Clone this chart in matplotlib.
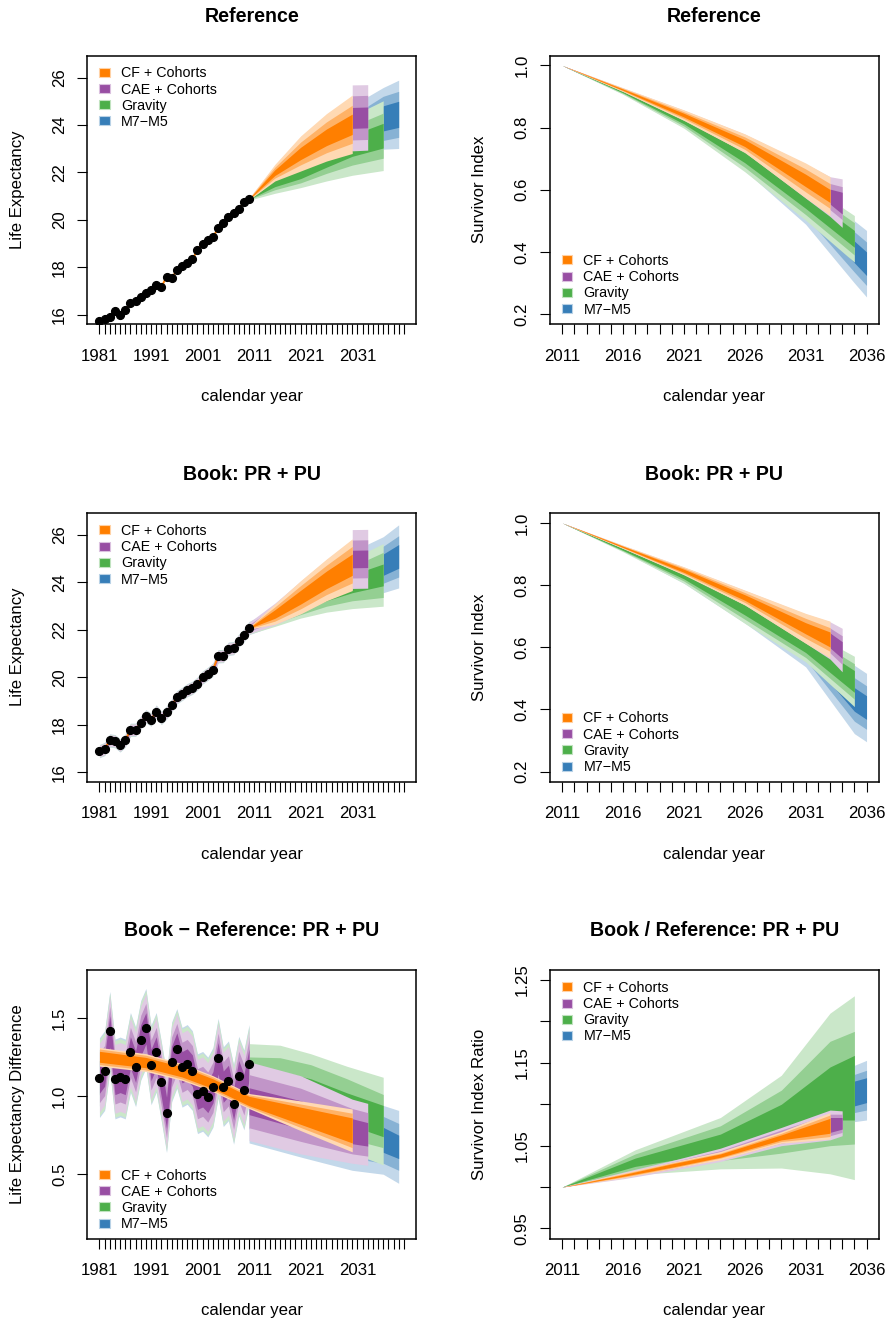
import numpy as np
import matplotlib
matplotlib.use("Agg")
import matplotlib.pyplot as plt
from matplotlib.colors import to_rgb
from matplotlib.patches import Rectangle

plt.rcParams["font.family"] = ["Liberation Sans", "DejaVu Sans"]

# ------------------------------------------------------------------ data
hist_years = list(range(1981, 2011))

ref_le_obs = [15.75, 15.82, 15.92, 16.15, 16.01, 16.20, 16.49, 16.58, 16.73, 16.93,
              17.04, 17.25, 17.18, 17.59, 17.56, 17.87, 18.07, 18.18, 18.34, 18.72,
              19.00, 19.14, 19.27, 19.65, 19.86, 20.11, 20.28, 20.44, 20.74, 20.88]
book_le_obs = [16.89, 16.98, 17.34, 17.31, 17.13, 17.34, 17.79, 17.79, 18.09, 18.36,
               18.22, 18.56, 18.29, 18.52, 18.82, 19.16, 19.30, 19.46, 19.56, 19.74,
               20.00, 20.15, 20.33, 20.89, 20.90, 21.21, 21.23, 21.55, 21.77, 22.08]
diff_le_obs = [1.118, 1.163, 1.414, 1.109, 1.122, 1.109, 1.279, 1.187, 1.356, 1.433,
               1.199, 1.279, 1.092, 0.893, 1.219, 1.304, 1.184, 1.202, 1.163, 1.015,
               1.030, 0.994, 1.056, 1.242, 1.060, 1.097, 0.947, 1.127, 1.039, 1.202]

# fan rows: year, centre, half-width of the inner / middle / outer band
ref_le_cf = [(2010, 20.88, 0.01, 0.02, 0.03), (2015, 21.99, 0.12, 0.23, 0.35),
             (2020, 22.80, 0.26, 0.48, 0.74), (2025, 23.48, 0.35, 0.65, 1.00),
             (2030, 24.03, 0.43, 0.80, 1.23)]
ref_le_cae = [(2010, 20.88, 0.01, 0.02, 0.03), (2015, 21.99, 0.10, 0.20, 0.30),
              (2020, 22.80, 0.22, 0.42, 0.65), (2025, 23.48, 0.30, 0.58, 0.90),
              (2030, 24.03, 0.38, 0.70, 1.10), (2030, 24.30, 0.44, 0.93, 1.39),
              (2033, 24.32, 0.44, 0.93, 1.38)]
ref_le_grav = [(2010, 20.88, 0.01, 0.02, 0.05), (2015, 21.55, 0.15, 0.28, 0.43),
               (2020, 21.96, 0.22, 0.40, 0.60), (2025, 22.54, 0.32, 0.58, 0.90),
               (2030, 23.13, 0.45, 0.82, 1.25), (2036, 23.55, 0.52, 0.95, 1.47)]
ref_le_m7 = [(2010, 20.88, 0.01, 0.02, 0.03), (2020, 22.30, 0.22, 0.40, 0.60),
             (2025, 22.90, 0.32, 0.58, 0.90), (2030, 23.60, 0.40, 0.75, 1.15),
             (2033, 23.95, 0.47, 0.85, 1.25), (2036, 24.28, 0.53, 0.93, 1.30),
             (2039, 24.45, 0.55, 0.97, 1.44)]

ref_si_cf = [(2011, 1.000, 0.000, 0.000, 0.000), (2016, 0.922, 0.002, 0.004, 0.006),
             (2021, 0.840, 0.006, 0.011, 0.017), (2026, 0.750, 0.011, 0.020, 0.030),
             (2031, 0.630, 0.020, 0.037, 0.056), (2033, 0.580, 0.021, 0.040, 0.062)]
ref_si_cae = [(2011, 1.000, 0.000, 0.000, 0.000), (2016, 0.922, 0.002, 0.004, 0.006),
              (2021, 0.840, 0.005, 0.010, 0.016), (2026, 0.750, 0.010, 0.019, 0.029),
              (2031, 0.628, 0.019, 0.036, 0.055), (2033, 0.578, 0.024, 0.042, 0.064),
              (2034, 0.557, 0.035, 0.053, 0.078)]
ref_si_grav = [(2011, 1.000, 0.000, 0.000, 0.000), (2016, 0.915, 0.003, 0.005, 0.008),
               (2021, 0.820, 0.008, 0.015, 0.022), (2026, 0.703, 0.016, 0.031, 0.045),
               (2031, 0.562, 0.022, 0.042, 0.060), (2035, 0.442, 0.027, 0.052, 0.075)]
ref_si_m7 = [(2011, 1.000, 0.000, 0.000, 0.000), (2016, 0.915, 0.003, 0.005, 0.007),
             (2021, 0.820, 0.008, 0.014, 0.020), (2026, 0.705, 0.016, 0.028, 0.043),
             (2031, 0.557, 0.024, 0.043, 0.068), (2035, 0.400, 0.035, 0.065, 0.100),
             (2036, 0.362, 0.038, 0.070, 0.107)]

book_le_cf = [(2010, 22.08, 0.01, 0.03, 0.05), (2015, 22.67, 0.18, 0.30, 0.43),
              (2020, 23.38, 0.29, 0.49, 0.70), (2025, 24.11, 0.37, 0.62, 0.88),
              (2030, 24.75, 0.45, 0.77, 1.09)]
book_le_cae = [(2010, 22.08, 0.06, 0.14, 0.24), (2015, 22.67, 0.17, 0.30, 0.46),
               (2020, 23.38, 0.26, 0.46, 0.68), (2025, 24.11, 0.33, 0.58, 0.85),
               (2030, 24.75, 0.40, 0.70, 1.05), (2030, 24.99, 0.37, 0.80, 1.24),
               (2033, 25.00, 0.37, 0.80, 1.24)]
book_le_grav = [(2010, 22.08, 0.07, 0.15, 0.26), (2015, 22.45, 0.10, 0.18, 0.30),
                (2020, 22.95, 0.16, 0.30, 0.45), (2025, 23.50, 0.27, 0.50, 0.75),
                (2030, 23.95, 0.38, 0.72, 1.05), (2036, 24.32, 0.46, 0.95, 1.32)]
book_le_m7 = [(2010, 22.08, 0.08, 0.16, 0.28), (2015, 22.55, 0.12, 0.22, 0.36),
              (2020, 23.10, 0.19, 0.35, 0.55), (2025, 23.70, 0.28, 0.50, 0.80),
              (2030, 24.20, 0.35, 0.62, 1.00), (2033, 24.50, 0.40, 0.70, 1.12),
              (2036, 24.75, 0.45, 0.78, 1.18), (2039, 25.10, 0.50, 0.87, 1.33)]
book_le_cae_hist_hw = [0.06, 0.14, 0.24]
book_le_grav_hist_hw = [0.07, 0.15, 0.26]
book_le_m7_hist_hw = [0.08, 0.16, 0.28]

book_si_cf = [(2011, 1.000, 0.000, 0.000, 0.000), (2016, 0.923, 0.002, 0.003, 0.005),
              (2021, 0.846, 0.005, 0.009, 0.013), (2026, 0.760, 0.009, 0.016, 0.024),
              (2031, 0.661, 0.018, 0.032, 0.048), (2033, 0.625, 0.024, 0.038, 0.059)]
book_si_cae = [(2011, 1.000, 0.000, 0.000, 0.000), (2016, 0.923, 0.001, 0.003, 0.005),
               (2021, 0.846, 0.004, 0.008, 0.012), (2026, 0.760, 0.008, 0.015, 0.023),
               (2031, 0.660, 0.017, 0.031, 0.047), (2033, 0.622, 0.024, 0.040, 0.060),
               (2034, 0.591, 0.027, 0.046, 0.070)]
book_si_grav = [(2011, 1.000, 0.000, 0.000, 0.000), (2016, 0.915, 0.003, 0.005, 0.008),
                (2021, 0.828, 0.008, 0.015, 0.022), (2026, 0.720, 0.016, 0.030, 0.043),
                (2031, 0.605, 0.022, 0.038, 0.052), (2035, 0.490, 0.035, 0.057, 0.081)]
book_si_m7 = [(2011, 1.000, 0.000, 0.000, 0.000), (2016, 0.916, 0.003, 0.005, 0.007),
              (2021, 0.826, 0.008, 0.013, 0.020), (2026, 0.720, 0.015, 0.027, 0.042),
              (2031, 0.600, 0.022, 0.040, 0.063), (2035, 0.432, 0.038, 0.070, 0.110),
              (2036, 0.406, 0.038, 0.070, 0.110)]

diff_le_cf = [(1981, 1.251, 0.035, 0.050, 0.060), (1990, 1.214, 0.033, 0.047, 0.057),
              (1997, 1.154, 0.032, 0.045, 0.054), (2003, 1.079, 0.031, 0.043, 0.051),
              (2010, 0.968, 0.030, 0.040, 0.048), (2020, 0.874, 0.055, 0.075, 0.095),
              (2030, 0.780, 0.080, 0.110, 0.137)]
diff_le_cae = [(2010, 0.967, 0.086, 0.170, 0.252), (2020, 0.880, 0.090, 0.170, 0.250),
               (2030, 0.775, 0.080, 0.145, 0.205), (2033, 0.755, 0.075, 0.139, 0.198)]
diff_le_grav = [(2010, 1.070, 0.100, 0.180, 0.265), (2016, 1.055, 0.105, 0.190, 0.270),
                (2022, 1.000, 0.110, 0.200, 0.270), (2029, 0.920, 0.100, 0.190, 0.270),
                (2036, 0.840, 0.100, 0.170, 0.280)]
diff_le_m7 = [(2010, 0.960, 0.090, 0.170, 0.260), (2020, 0.870, 0.090, 0.170, 0.260),
              (2030, 0.760, 0.085, 0.155, 0.235), (2036, 0.720, 0.080, 0.150, 0.220),
              (2039, 0.675, 0.075, 0.150, 0.233)]
diff_le_cae_hist_hw = [0.10, 0.16, 0.22]
diff_le_grav_hist_hw = [0.11, 0.18, 0.245]
diff_le_m7_hist_hw = [0.11, 0.18, 0.255]

ratio_si_cf = [(2011, 1.000, 0.000, 0.000, 0.000), (2016, 1.014, 0.001, 0.002, 0.003),
               (2020, 1.026, 0.002, 0.003, 0.004), (2024, 1.038, 0.002, 0.003, 0.005),
               (2029, 1.060, 0.003, 0.005, 0.007), (2033, 1.074, 0.009, 0.013, 0.016)]
ratio_si_cae = [(2011, 1.000, 0.000, 0.000, 0.000), (2016, 1.014, 0.001, 0.002, 0.004),
                (2020, 1.026, 0.002, 0.004, 0.006), (2024, 1.039, 0.003, 0.005, 0.008),
                (2029, 1.061, 0.005, 0.008, 0.011), (2033, 1.075, 0.009, 0.013, 0.018),
                (2034, 1.077, 0.007, 0.011, 0.015)]
ratio_si_grav = [(2011, 1.000, 0.000, 0.000, 0.000), (2017, 1.030, 0.005, 0.010, 0.015),
                 (2024, 1.053, 0.011, 0.021, 0.031), (2029, 1.079, 0.021, 0.038, 0.056),
                 (2033, 1.113, 0.032, 0.063, 0.097), (2035, 1.120, 0.039, 0.068, 0.111)]
ratio_si_m7 = [(2011, 1.000, 0.000, 0.000, 0.000), (2017, 1.028, 0.004, 0.007, 0.011),
               (2024, 1.050, 0.007, 0.012, 0.019), (2029, 1.076, 0.010, 0.018, 0.028),
               (2033, 1.100, 0.013, 0.021, 0.032), (2035, 1.113, 0.015, 0.023, 0.034),
               (2036, 1.117, 0.015, 0.024, 0.036)]

labels = ["CF + Cohorts", "CAE + Cohorts", "Gravity", "M7\u2212M5"]
colours = ["#FF7F00", "#984EA3", "#4DAF4A", "#377EB8"]

# ------------------------------------------------------------------ layout (pixels)
W, H = 887, 1319
AW, AH = 328.7, 268.5
COL_X = [87.3, 550.0]
ROW_Y = [55.5, 513.0, 970.0]


def tint(c, a):
    r, g, b = to_rgb(c)
    return (1 - a + a * r, 1 - a + a * g, 1 - a + a * b)


def fan(ax, rows, colour):
    rows = np.asarray(rows, dtype=float)
    yr, mid = rows[:, 0], rows[:, 1]
    for k, a in ((4, 0.3), (3, 0.6), (2, 1.0)):
        ax.fill_between(yr, mid - rows[:, k], mid + rows[:, k],
                        color=tint(colour, a), linewidth=0)


def hist_rows(obs, hw):
    return [(y, v, hw[0], hw[1], hw[2]) for y, v in zip(hist_years, obs)]


def legend(ax, where):
    n = len(labels)
    for i, (lab, c) in enumerate(zip(labels, colours)):
        yc = AH - 16.8 - 16.2 * i if where == "upper" else 15.5 + 16.2 * (n - 1 - i)
        ax.add_patch(Rectangle((12 / AW, (yc - 4.5) / AH), 10.5 / AW, 9 / AH,
                               transform=ax.transAxes, facecolor=c,
                               edgecolor=tint(c, 0.35), linewidth=0.8,
                               clip_on=False, zorder=10))
        ax.text(33.5 / AW, (yc - 5.1) / AH, lab, transform=ax.transAxes,
                fontsize=10.3, va="baseline", ha="left", zorder=10)


def make_axes(fig, col, row):
    x0, y0 = COL_X[col], ROW_Y[row]
    return fig.add_axes([x0 / W, 1 - (y0 + AH) / H, AW / W, AH / H])


def style(ax, xticks, step, ylim, yticks, ylabels, ylabel, title):
    ax.set_xlim(xticks[0] - 0.04 * (xticks[-1] - xticks[0]),
                xticks[-1] + 0.04 * (xticks[-1] - xticks[0]))
    ax.set_ylim(ylim)
    ax.set_xticks(xticks)
    ax.set_xticklabels([str(t) if (t - xticks[0]) % step == 0 else "" for t in xticks])
    ax.set_yticks(yticks)
    ax.set_yticklabels(ylabels)
    ax.tick_params(axis="both", direction="out", length=7, width=0.8,
                   labelsize=12.1, color="black")
    ax.tick_params(axis="x", pad=10.7)
    ax.tick_params(axis="y", pad=7.7, labelrotation=90)
    for t in ax.get_yticklabels():
        t.set_va("center")
    for s in ax.spines.values():
        s.set_linewidth(1.1)
    ax.text(0.5, 1 + 33.5 / AH, title, transform=ax.transAxes, ha="center",
            va="baseline", fontsize=14.1, fontweight="bold")
    ax.text(0.5, -77 / AH, "calendar year", transform=ax.transAxes,
            ha="center", va="baseline", fontsize=12.1)
    ax.text(-65.5 / AW, 0.5, ylabel, transform=ax.transAxes, rotation=90,
            rotation_mode="anchor", ha="center", va="baseline", fontsize=12.1)


fig = plt.figure(figsize=(W / 100, H / 100), dpi=100)

left_ticks = list(range(1981, 2041))
right_ticks = list(range(2011, 2037))
le_ticks = [16, 18, 20, 22, 24, 26]
si_ticks = [0.2, 0.4, 0.6, 0.8, 1.0]
si_labels = ["0.2", "0.4", "0.6", "0.8", "1.0"]

# --- Reference: life expectancy
ax = make_axes(fig, 0, 0)
for rows, c in ((ref_le_m7, 3), (ref_le_grav, 2), (ref_le_cae, 1), (ref_le_cf, 0)):
    fan(ax, rows, colours[c])
ax.plot(hist_years, ref_le_obs, color=colours[0], lw=1.4, zorder=4)
ax.plot(hist_years, ref_le_obs, "o", color="black", ms=5.6, zorder=5)
style(ax, left_ticks, 10, (15.61, 26.93), le_ticks, [str(t) for t in le_ticks],
      "Life Expectancy", "Reference")
legend(ax, "upper")

# --- Reference: survivor index
ax = make_axes(fig, 1, 0)
for rows, c in ((ref_si_m7, 3), (ref_si_grav, 2), (ref_si_cae, 1), (ref_si_cf, 0)):
    fan(ax, rows, colours[c])
style(ax, right_ticks, 5, (0.168, 1.032), si_ticks, si_labels,
      "Survivor Index", "Reference")
legend(ax, "lower")

# --- Book: life expectancy
ax = make_axes(fig, 0, 1)
for rows, hw, c in ((book_le_m7, book_le_m7_hist_hw, 3),
                    (book_le_grav, book_le_grav_hist_hw, 2),
                    (book_le_cae, book_le_cae_hist_hw, 1)):
    fan(ax, hist_rows(book_le_obs, hw), colours[c])
    fan(ax, rows, colours[c])
fan(ax, book_le_cf, colours[0])
ax.plot(hist_years, book_le_obs, color=colours[0], lw=1.4, zorder=4)
ax.plot(hist_years, book_le_obs, "o", color="black", ms=5.6, zorder=5)
style(ax, left_ticks, 10, (15.61, 26.93), le_ticks, [str(t) for t in le_ticks],
      "Life Expectancy", "Book: PR + PU")
legend(ax, "upper")

# --- Book: survivor index
ax = make_axes(fig, 1, 1)
for rows, c in ((book_si_m7, 3), (book_si_grav, 2), (book_si_cae, 1), (book_si_cf, 0)):
    fan(ax, rows, colours[c])
style(ax, right_ticks, 5, (0.168, 1.032), si_ticks, si_labels,
      "Survivor Index", "Book: PR + PU")
legend(ax, "lower")

# --- Book - Reference: life expectancy
ax = make_axes(fig, 0, 2)
for rows, hw, c in ((diff_le_m7, diff_le_m7_hist_hw, 3),
                    (diff_le_grav, diff_le_grav_hist_hw, 2),
                    (diff_le_cae, diff_le_cae_hist_hw, 1)):
    fan(ax, hist_rows(diff_le_obs, hw), colours[c])
    fan(ax, rows, colours[c])
fan(ax, diff_le_cf, colours[0])
ax.plot(hist_years, diff_le_obs, "o", color="black", ms=5.6, zorder=5)
style(ax, left_ticks, 10, (0.089, 1.806), [0.5, 1.0, 1.5], ["0.5", "1.0", "1.5"],
      "Life Expectancy Difference", "Book \u2212 Reference: PR + PU")
legend(ax, "lower")

# --- Book / Reference: survivor index
ax = make_axes(fig, 1, 2)
for rows, c in ((ratio_si_m7, 3), (ratio_si_grav, 2), (ratio_si_cae, 1), (ratio_si_cf, 0)):
    fan(ax, rows, colours[c])
r_ticks = [0.95, 1.00, 1.05, 1.10, 1.15, 1.20, 1.25]
style(ax, right_ticks, 5, (0.9379, 1.2621), r_ticks,
      [f"{t:.2f}" if i % 2 == 0 else "" for i, t in enumerate(r_ticks)],
      "Survivor Index Ratio", "Book / Reference: PR + PU")
legend(ax, "upper")

fig.savefig("out.png", dpi=100)
